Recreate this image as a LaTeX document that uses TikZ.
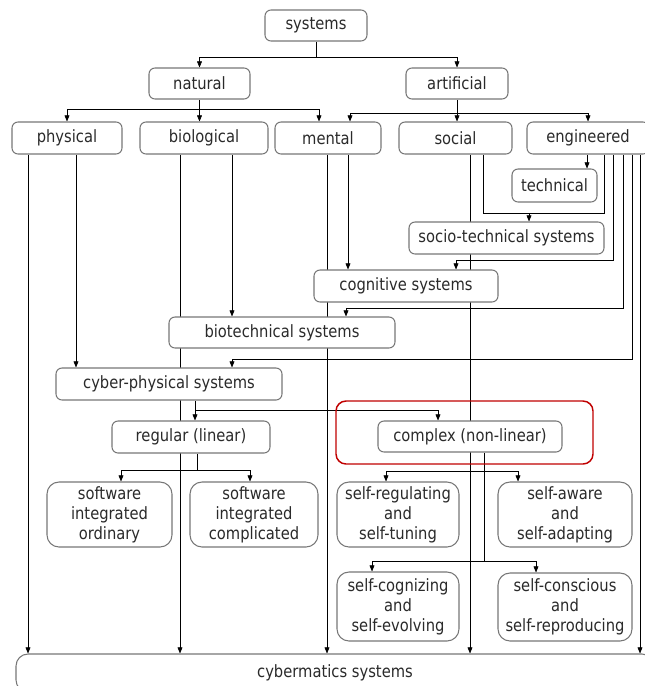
\documentclass[tikz,border=0pt]{standalone}
\usepackage{fontspec}
\setmainfont{DejaVu Sans}[FakeStretch=0.87]
\usepackage{tikz}
\usetikzlibrary{arrows.meta,backgrounds}
\definecolor{boxline}{HTML}{777777}
\definecolor{wirecol}{HTML}{727272}
\definecolor{hilite}{HTML}{C00000}
\definecolor{txt}{HTML}{2A2A2A}

\begin{document}
\begin{tikzpicture}[
  x=0.75pt, y=-0.75pt,
  >={Triangle[length=4.5pt,width=3.6pt,color=black]},
  box/.style={rectangle, rounded corners=4.5pt, draw=boxline, line width=0.8pt, fill=white, align=center, text=txt, font=\fontsize{12.7}{15}\selectfont, inner sep=0pt},
  tall/.style={box, rounded corners=9pt},
  frame/.style={rectangle, rounded corners=7.5pt, draw=hilite, line width=1.1pt},
  sz/.style 2 args={minimum width=#1*0.75pt, minimum height=#2*0.75pt},
  link/.style={draw=wirecol, line width=0.9pt}
]
\useasboundingbox (0,0) rectangle (644,686);
% levels
\node[box, sz={102}{31}] (sys) at (316,25.5) {systems};
\node[box, sz={101}{31}] (nat) at (199.5,83.5) {natural};
\node[box, sz={102}{31}] (art) at (457,83.5) {artificial};
\node[box, sz={110}{32}] (phys) at (67,138) {physical};
\node[box, sz={128}{32}] (bio) at (204,138) {biological};
\node[box, sz={106}{32}] (ment) at (328,138) {mental};
\node[box, sz={113}{32}] (soc) at (455.5,138) {social};
\node[box, sz={122}{32}] (eng) at (588,138) {engineered};
\node[box, sz={85}{33}] (tech) at (554.5,185.5) {technical};
\node[box, sz={195}{32}] (stech) at (506.5,238) {socio-technical systems};
\node[box, sz={184}{32}] (cog) at (406,286) {cognitive systems};
\node[box, sz={226}{31}] (biot) at (282,332.5) {biotechnical systems};
\node[box, sz={226}{32}] (cps) at (169,384) {cyber-physical systems};
\node[box, sz={158}{32}] (reg) at (191,437) {regular (linear)};
\node[box, sz={184}{31}] (cpx) at (470,436.5) {complex (non-linear)};
\node[frame, sz={257}{63}] (hl) at (464.5,432.5) {};
\node[tall, sz={125}{65}] (swo) at (109.5,514.5) {software\\integrated\\ordinary};
\node[tall, sz={128}{65}] (swc) at (254,514.5) {software\\integrated\\complicated};
\node[tall, sz={122}{65}] (srt) at (398,514.5) {self-regulating\\and\\self-tuning};
\node[tall, sz={134}{65}] (saa) at (565,514.5) {self-aware\\and\\self-adapting};
\node[tall, sz={122}{69}] (sce) at (398,606.5) {self-cognizing\\and\\self-evolving};
\node[tall, sz={134}{68}] (scr) at (565,607) {self-conscious\\and\\self-reproducing};
\node[tall, sz={638}{38}] (cyb) at (335,673) {cybermatics systems};

\begin{scope}[on background layer, link]
% top
\draw[->] (sys.south) -- (sys |- 0,57) -| (nat.north);
\draw[->] (sys |- 0,57) -| (art.north);
\draw[->] (nat.south) -- (nat |- 0,109) -| (phys.north);
\draw[->] (nat |- 0,109) -- (nat |- bio.north);
\draw[->] (nat |- 0,109) -| (319,0 |- ment.north);
\draw[->] (art.south) -- (art |- 0,113) -| (350,0 |- ment.north);
\draw[->] (art |- 0,113) -- (art |- soc.north);
\draw[->] (art |- 0,113) -| (eng.north);
% physical, biological, mental
\draw[->] (28,0 |- phys.south) -- (28,0 |- cyb.north);
\draw[->] (76,0 |- phys.south) -- (76,0 |- cps.north);
\draw[->] (180,0 |- bio.south) -- (180,0 |- cyb.north);
\draw[->] (232,0 |- bio.south) -- (232,0 |- biot.north);
\draw[->] (327,0 |- ment.south) -- (327,0 |- cyb.north);
\draw[->] (348,0 |- ment.south) -- (348,0 |- cog.north);
% social
\draw[->] (470,0 |- soc.south) -- (470,0 |- cyb.north);
\draw (483,0 |- soc.south) -- (483,213) -- (604,213) -- (604,0 |- eng.south);
\draw[->] (529,213) -- (529,0 |- stech.north);
% engineered
\draw[->] (587,0 |- eng.south) -- (587,0 |- tech.north);
\draw[->] (613,0 |- eng.south) |- (456,260) -- (456,0 |- cog.north);
\draw[->] (623,0 |- eng.south) |- (346,308) -- (346,0 |- biot.north);
\draw[->] (632,0 |- eng.south) |- (232,359) -- (232,0 |- cps.north);
\draw[->] (640,0 |- eng.south) -- (640,0 |- cyb.north);
% cyber-physical
\draw[->] (195,0 |- cps.south) -- (195,0 |- reg.north);
\draw[->] (195,410) -| (438,0 |- cpx.north);
% regular
\draw[->] (197,0 |- reg.south) -- (197,470) -| (121,0 |- swo.north);
\draw[->] (197,470) -| (250,0 |- swc.north);
% complex
\draw (484,0 |- cpx.south) -- (484,561);
\draw[->] (484,471) -| (386,0 |- srt.north);
\draw[->] (484,471) -| (518,0 |- saa.north);
\draw[->] (484,561) -| (372,0 |- sce.north);
\draw[->] (484,561) -| (536,0 |- scr.north);
\end{scope}
\end{tikzpicture}
\end{document}
